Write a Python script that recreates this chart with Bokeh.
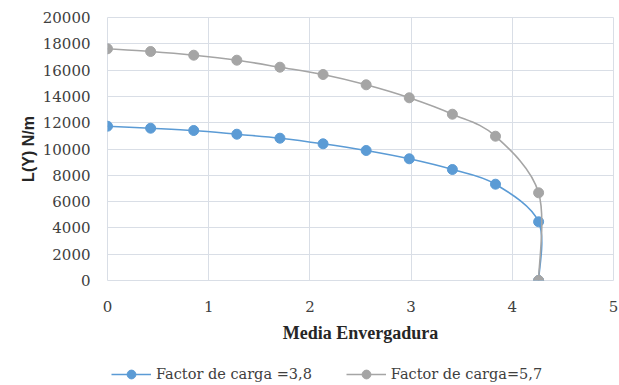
from bokeh.plotting import figure
from bokeh.layouts import column
from bokeh.models import (ColumnDataSource, Legend, LegendItem, Range1d,
                          FixedTicker)
from bokeh.embed import file_html
from bokeh.resources import INLINE

# ---- data ----
span_x = [0, 0.426, 0.852, 1.278, 1.704, 2.13, 2.556, 2.982, 3.408, 3.834, 4.26, 4.26]
load_38 = [11734, 11582, 11407, 11125, 10821, 10395, 9886, 9255, 8441, 7323, 4464, 0]
load_57 = [17620, 17414, 17133, 16753, 16220, 15665, 14882, 13894, 12646, 10973, 6669, 0]
series_names = ["Factor de carga =3,8", "Factor de carga=5,7"]
x_ticks = [0, 1, 2, 3, 4, 5]
y_ticks = [0, 2000, 4000, 6000, 8000, 10000, 12000, 14000, 16000, 18000, 20000]

BLUE = "#5B9BD5"
GREY = "#A5A5A5"
GRID = "#D9DEE6"
SERIF = "DejaVu Serif"


def smooth_segments(xs, ys):
    """Catmull-Rom style Bezier control points (Excel 'smoothed line')."""
    n = len(xs)
    d = dict(x0=[], y0=[], x1=[], y1=[], cx0=[], cy0=[], cx1=[], cy1=[])
    for i in range(n - 1):
        ip = max(i - 1, 0)
        inn = min(i + 2, n - 1)
        d["x0"].append(xs[i]); d["y0"].append(ys[i])
        d["x1"].append(xs[i + 1]); d["y1"].append(ys[i + 1])
        d["cx0"].append(xs[i] + (xs[i + 1] - xs[ip]) / 6.0)
        d["cy0"].append(ys[i] + (ys[i + 1] - ys[ip]) / 6.0)
        d["cx1"].append(xs[i + 1] - (xs[inn] - xs[i]) / 6.0)
        d["cy1"].append(ys[i + 1] - (ys[inn] - ys[i]) / 6.0)
    return ColumnDataSource(d)


p1 = figure(width=619, height=352, output_backend="svg", toolbar_location=None,
            x_range=Range1d(0, 5), y_range=Range1d(0, 20000),
            min_border_left=107, min_border_right=6, min_border_top=17,
            min_border_bottom=72)
p1.outline_line_color = GRID
p1.background_fill_color = "white"
p1.border_fill_color = "white"

# legend-only strip below the chart (its data lies outside its own ranges)
p2 = figure(width=619, height=33, output_backend="svg", toolbar_location=None,
            x_range=Range1d(100, 101), y_range=Range1d(100, 101),
            x_axis_type=None, y_axis_type=None,
            min_border_left=0, min_border_right=0, min_border_top=0,
            min_border_bottom=0)
p2.outline_line_color = None
p2.xgrid.visible = False
p2.ygrid.visible = False

legend_items = []
for ys, col, name in [(load_38, BLUE, series_names[0]), (load_57, GREY, series_names[1])]:
    src = smooth_segments(span_x, ys)
    p1.bezier(x0="x0", y0="y0", x1="x1", y1="y1", cx0="cx0", cy0="cy0",
              cx1="cx1", cy1="cy1", source=src, line_color=col, line_width=1.6)
    p1.scatter(span_x, ys, size=10, marker="circle", fill_color=col,
               line_color=col, line_width=1)
    leg_line = p2.line(span_x, ys, line_color=col, line_width=1.6)
    leg_dot = p2.scatter(span_x, ys, marker="circle", size=10, fill_color=col,
                         line_color=col, line_width=1)
    legend_items.append(LegendItem(label=name, renderers=[leg_line, leg_dot]))

# axes
for ax in (p1.xaxis, p1.yaxis):
    ax.axis_line_color = None
    ax.major_tick_line_color = None
    ax.minor_tick_line_color = None
    ax.major_tick_out = 0
    ax.major_tick_in = 0
    ax.major_label_text_font = SERIF
    ax.major_label_text_font_size = "15px"
    ax.major_label_text_color = "#404040"

p1.xaxis.ticker = FixedTicker(ticks=x_ticks)
p1.yaxis.ticker = FixedTicker(ticks=y_ticks)
p1.xaxis.major_label_standoff = 20
p1.yaxis.major_label_standoff = 17

p1.xaxis.axis_label = "Media Envergadura"
p1.xaxis.axis_label_text_font = "Liberation Serif"
p1.xaxis.axis_label_text_font_style = "bold"
p1.xaxis.axis_label_text_font_size = "18px"
p1.xaxis.axis_label_text_color = "#262626"
p1.xaxis.axis_label_standoff = 8

p1.yaxis.axis_label = "L(Y) N/m"
p1.yaxis.axis_label_text_font = "Liberation Sans"
p1.yaxis.axis_label_text_font_style = "bold"
p1.yaxis.axis_label_text_font_size = "16px"
p1.yaxis.axis_label_text_color = "#262626"
p1.yaxis.axis_label_standoff = 3

p1.xgrid.ticker = FixedTicker(ticks=x_ticks)
p1.ygrid.ticker = FixedTicker(ticks=y_ticks)
p1.xgrid.grid_line_color = GRID
p1.ygrid.grid_line_color = GRID

legend = Legend(items=legend_items, orientation="horizontal",
                location=(4, 0), glyph_width=40, glyph_height=22,
                label_height=22, label_standoff=5, spacing=34, padding=0,
                margin=0, border_line_color=None, background_fill_alpha=0,
                label_text_font=SERIF, label_text_font_size="14.5px",
                label_text_color="#404040")
p2.add_layout(legend, "center")

p = column(p1, p2, spacing=0)
open("out.html", "w").write(file_html(p, INLINE))
